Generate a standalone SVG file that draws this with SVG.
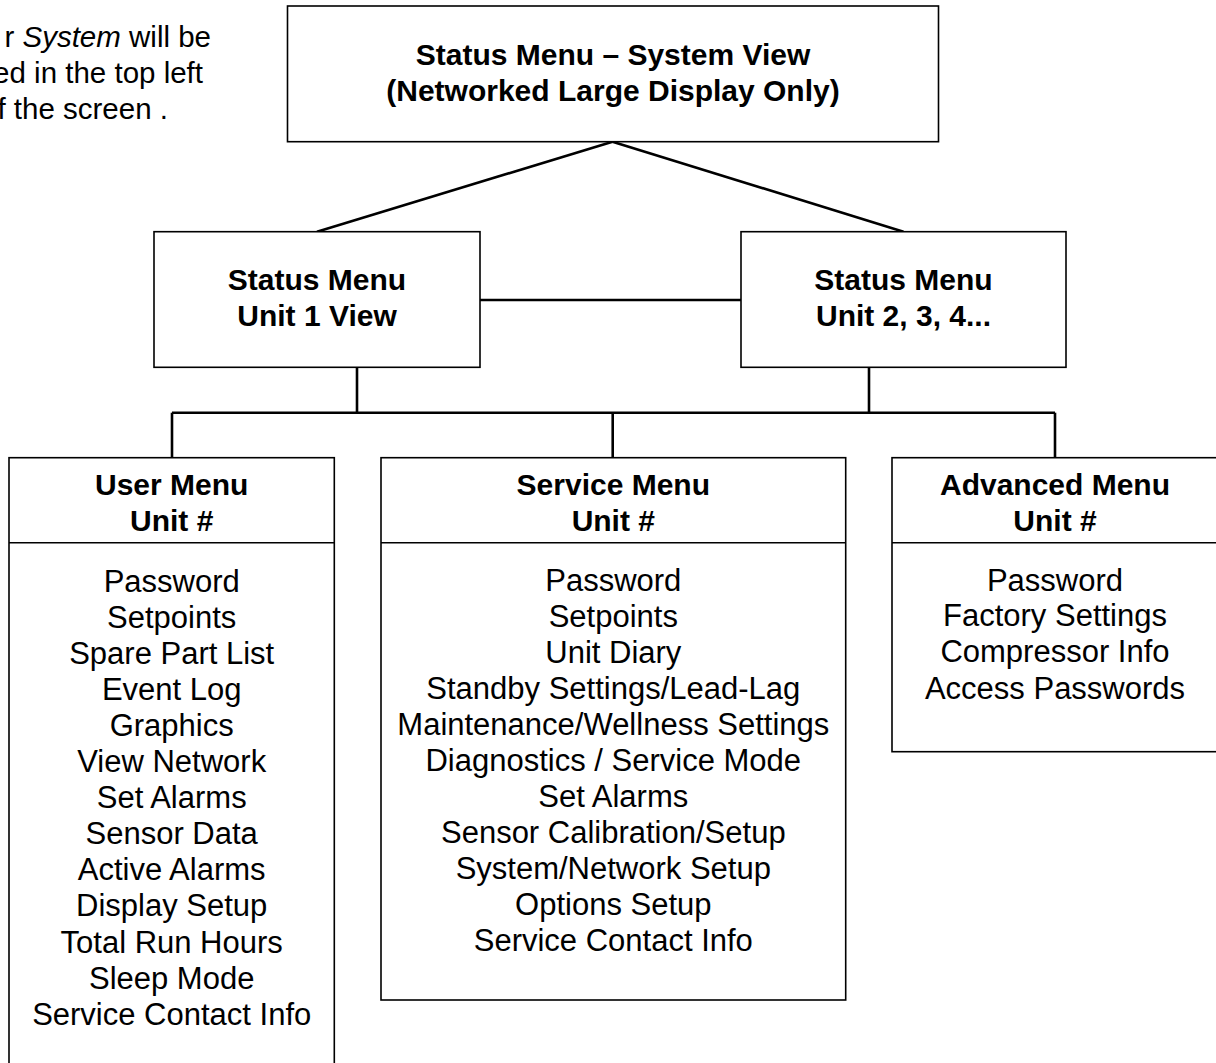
<svg xmlns="http://www.w3.org/2000/svg" width="1216" height="1063" viewBox="0 0 1216 1063">
<style>
text{font-family:"Liberation Sans",Arial,Helvetica,sans-serif;fill:#000}
.h{font-size:30px;font-weight:bold;text-anchor:middle}
.i{font-size:31px;text-anchor:middle}
.note{font-size:29.5px;text-anchor:end}
.box{fill:#fff;stroke:#000;stroke-width:1.6}
.div{stroke:#000;stroke-width:1.6}
.con{stroke:#000;stroke-width:2.6;fill:none}
</style>
<rect width="1216" height="1063" fill="#fff"/>
<g id="note">
<text class="note" x="211" y="47">r <tspan font-style="italic">System</tspan> will be</text>
<text class="note" x="203" y="83">ed in the top left</text>
<text class="note" x="168" y="119">f the screen .</text>
</g>
<g id="connectors">
<line class="con" x1="612.5" y1="141.7" x2="317" y2="231.7"/>
<line class="con" x1="612.5" y1="141.7" x2="903.5" y2="231.7"/>
<line class="con" x1="480" y1="300" x2="741" y2="300"/>
<line class="con" x1="357" y1="367.3" x2="357" y2="412.7"/>
<line class="con" x1="869" y1="367.3" x2="869" y2="412.7"/>
<line class="con" x1="172" y1="412.7" x2="1055" y2="412.7"/>
<line class="con" x1="172" y1="412.7" x2="172" y2="457.7"/>
<line class="con" x1="612.7" y1="412.7" x2="612.7" y2="457.7"/>
<line class="con" x1="1055" y1="412.7" x2="1055" y2="457.7"/>
</g>
<g id="system-view">
<rect class="box" x="287.5" y="6" width="651" height="135.7"/>
<text class="h" x="613" y="65">Status Menu – System View</text>
<text class="h" x="613" y="101">(Networked Large Display Only)</text>
</g>
<g id="unit1">
<rect class="box" x="154" y="231.7" width="326" height="135.6"/>
<text class="h" x="317" y="290">Status Menu</text>
<text class="h" x="317" y="325.5">Unit 1 View</text>
</g>
<g id="unit2">
<rect class="box" x="741" y="231.7" width="325" height="135.6"/>
<text class="h" x="903.5" y="290">Status Menu</text>
<text class="h" x="903.5" y="325.5">Unit 2, 3, 4...</text>
</g>
<g id="user-menu">
<rect class="box" x="9" y="457.7" width="325.3" height="620"/>
<line class="div" x1="9" y1="542.7" x2="334.3" y2="542.7"/>
<text class="h" x="171.7" y="495">User Menu</text>
<text class="h" x="171.7" y="530.7">Unit #</text>
<text class="i" x="171.7" y="591.5">Password</text>
<text class="i" x="171.7" y="627.6">Setpoints</text>
<text class="i" x="171.7" y="663.7">Spare Part List</text>
<text class="i" x="171.7" y="699.8">Event Log</text>
<text class="i" x="171.7" y="735.9">Graphics</text>
<text class="i" x="171.7" y="772">View Network</text>
<text class="i" x="171.7" y="808.1">Set Alarms</text>
<text class="i" x="171.7" y="844.2">Sensor Data</text>
<text class="i" x="171.7" y="880.3">Active Alarms</text>
<text class="i" x="171.7" y="916.4">Display Setup</text>
<text class="i" x="171.7" y="952.5">Total Run Hours</text>
<text class="i" x="171.7" y="988.6">Sleep Mode</text>
<text class="i" x="171.7" y="1024.7">Service Contact Info</text>
</g>
<g id="service-menu">
<rect class="box" x="381" y="457.7" width="464.7" height="542.3"/>
<line class="div" x1="381" y1="542.7" x2="845.7" y2="542.7"/>
<text class="h" x="613.3" y="495">Service Menu</text>
<text class="h" x="613.3" y="530.7">Unit #</text>
<text class="i" x="613.3" y="591">Password</text>
<text class="i" x="613.3" y="627">Setpoints</text>
<text class="i" x="613.3" y="663">Unit Diary</text>
<text class="i" x="613.3" y="699">Standby Settings/Lead-Lag</text>
<text class="i" x="613.3" y="735">Maintenance/Wellness Settings</text>
<text class="i" x="613.3" y="771">Diagnostics / Service Mode</text>
<text class="i" x="613.3" y="807">Set Alarms</text>
<text class="i" x="613.3" y="843">Sensor Calibration/Setup</text>
<text class="i" x="613.3" y="879">System/Network Setup</text>
<text class="i" x="613.3" y="915">Options Setup</text>
<text class="i" x="613.3" y="951">Service Contact Info</text>
</g>
<g id="advanced-menu">
<rect class="box" x="892" y="457.7" width="330" height="294"/>
<line class="div" x1="892" y1="542.7" x2="1222" y2="542.7"/>
<text class="h" x="1055" y="495">Advanced Menu</text>
<text class="h" x="1055" y="530.7">Unit #</text>
<text class="i" x="1055" y="591">Password</text>
<text class="i" x="1055" y="626">Factory Settings</text>
<text class="i" x="1055" y="662">Compressor Info</text>
<text class="i" x="1055" y="698.5">Access Passwords</text>
</g>
</svg>
